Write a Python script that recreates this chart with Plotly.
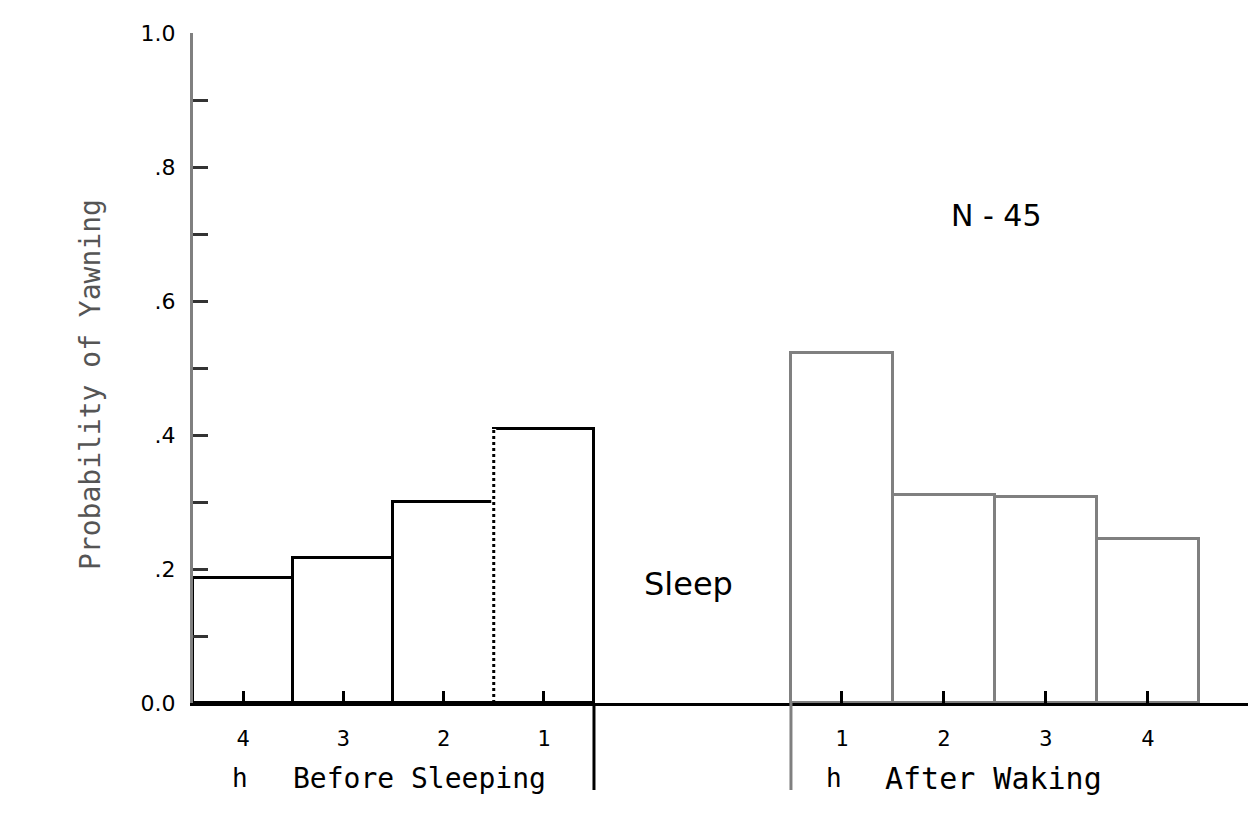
import plotly.graph_objects as go

# ---- data ----
before_labels = ["4", "3", "2", "1"]
before_values = [0.187, 0.216, 0.300, 0.409]
after_labels = ["1", "2", "3", "4"]
after_values = [0.522, 0.310, 0.307, 0.245]
y_tick_vals = [0.0, 0.1, 0.2, 0.3, 0.4, 0.5, 0.6, 0.7, 0.8, 0.9, 1.0]
y_tick_text = ["0.0", "", ".2", "", ".4", "", ".6", "", ".8", "", "1.0"]

# ---- layout geometry (page has an 8px body margin) ----
OFF = 8
W, H = 1248, 821
L, R, T, B = 185, 0, 25, 126
PW, PH = W - L - R, H - T - B
XMAX = 10.604
after_start = 5.965
after_w = 1.017

def px_x(p):  # screen pixel -> paper x
    return (p - OFF - L) / PW

def px_y(p):  # screen pixel -> paper y
    return (H - B - (p - OFF)) / PH

def dx(v):
    return v / XMAX

before_x = [i + 0.5 for i in range(len(before_values))]
before_wd = [1.0] * len(before_values)
after_x = [after_start + after_w * (i + 0.5) for i in range(len(after_values))]
after_wd = [after_w] * len(after_values)

MONO = "DejaVu Sans Mono"
SANS = "DejaVu Sans"

fig = go.Figure()
fig.add_trace(go.Bar(x=before_x, y=before_values, width=before_wd,
                     marker=dict(color="white", line=dict(color="black", width=3)),
                     showlegend=False, hoverinfo="skip"))
fig.add_trace(go.Bar(x=after_x, y=after_values, width=after_wd,
                     marker=dict(color="white", line=dict(color="#808080", width=3)),
                     showlegend=False, hoverinfo="skip"))

shapes = [
    # dashed shared edge between before bars 2 and 1
    dict(type="line", xref="paper", yref="paper", x0=dx(3.0), x1=dx(3.0),
         y0=0.003, y1=before_values[3], line=dict(color="white", width=5)),
    dict(type="line", xref="paper", yref="paper", x0=dx(3.0), x1=dx(3.0),
         y0=0, y1=before_values[3], line=dict(color="black", width=3, dash="dot")),
    # separators below the axis
    dict(type="line", xref="paper", yref="paper", x0=dx(4.0), x1=dx(4.0),
         y0=0, y1=px_y(790), line=dict(color="black", width=3)),
    dict(type="line", xref="paper", yref="paper", x0=dx(after_start), x1=dx(after_start),
         y0=0, y1=px_y(790), line=dict(color="#808080", width=3)),
]

annotations = [
    dict(text="Probability of Yawning", xref="paper", yref="paper", x=px_x(90), y=px_y(385),
         showarrow=False, textangle=-90, font=dict(family=MONO, size=28, color="#555555"),
         xanchor="center", yanchor="middle"),
    dict(text="h", xref="paper", yref="paper", x=px_x(240), y=px_y(778), showarrow=False,
         font=dict(family=MONO, size=26, color="black"), xanchor="center", yanchor="middle"),
    dict(text="Before Sleeping", xref="paper", yref="paper", x=px_x(291), y=px_y(778),
         showarrow=False, font=dict(family=MONO, size=28, color="black"),
         xanchor="left", yanchor="middle"),
    dict(text="h", xref="paper", yref="paper", x=px_x(834), y=px_y(778), showarrow=False,
         font=dict(family=MONO, size=26, color="black"), xanchor="center", yanchor="middle"),
    dict(text="After Waking", xref="paper", yref="paper", x=px_x(883), y=px_y(778),
         showarrow=False, font=dict(family=MONO, size=30, color="black"),
         xanchor="left", yanchor="middle"),
    dict(text="Sleep", xref="paper", yref="paper", x=px_x(688), y=px_y(584), showarrow=False,
         font=dict(family=SANS, size=32, color="black"), xanchor="center", yanchor="middle"),
    dict(text="N - 45", xref="paper", yref="paper", x=px_x(996), y=px_y(215), showarrow=False,
         font=dict(family=SANS, size=30, color="black"), xanchor="center", yanchor="middle"),
]

fig.update_layout(
    width=W, height=H,
    margin=dict(l=L, r=R, t=T, b=B, pad=0),
    paper_bgcolor="white", plot_bgcolor="white",
    bargap=0, barmode="overlay",
    shapes=shapes, annotations=annotations,
    xaxis=dict(range=[0, XMAX], showgrid=False, zeroline=False,
               showline=True, linecolor="black", linewidth=3,
               ticks="inside", ticklen=12, tickwidth=3, tickcolor="black",
               tickvals=before_x + after_x, ticktext=before_labels + after_labels,
               tickfont=dict(family=MONO, size=22, color="black"),
               ticklabelstandoff=14),
    yaxis=dict(range=[0, 1.0], showgrid=False, zeroline=False,
               showline=True, linecolor="#808080", linewidth=3,
               ticks="inside", ticklen=15, tickwidth=3, tickcolor="#333333",
               tickvals=y_tick_vals, ticktext=y_tick_text,
               tickfont=dict(family=SANS, size=22, color="black"),
               ticklabelstandoff=10),
)

fig.write_html("out.html")
